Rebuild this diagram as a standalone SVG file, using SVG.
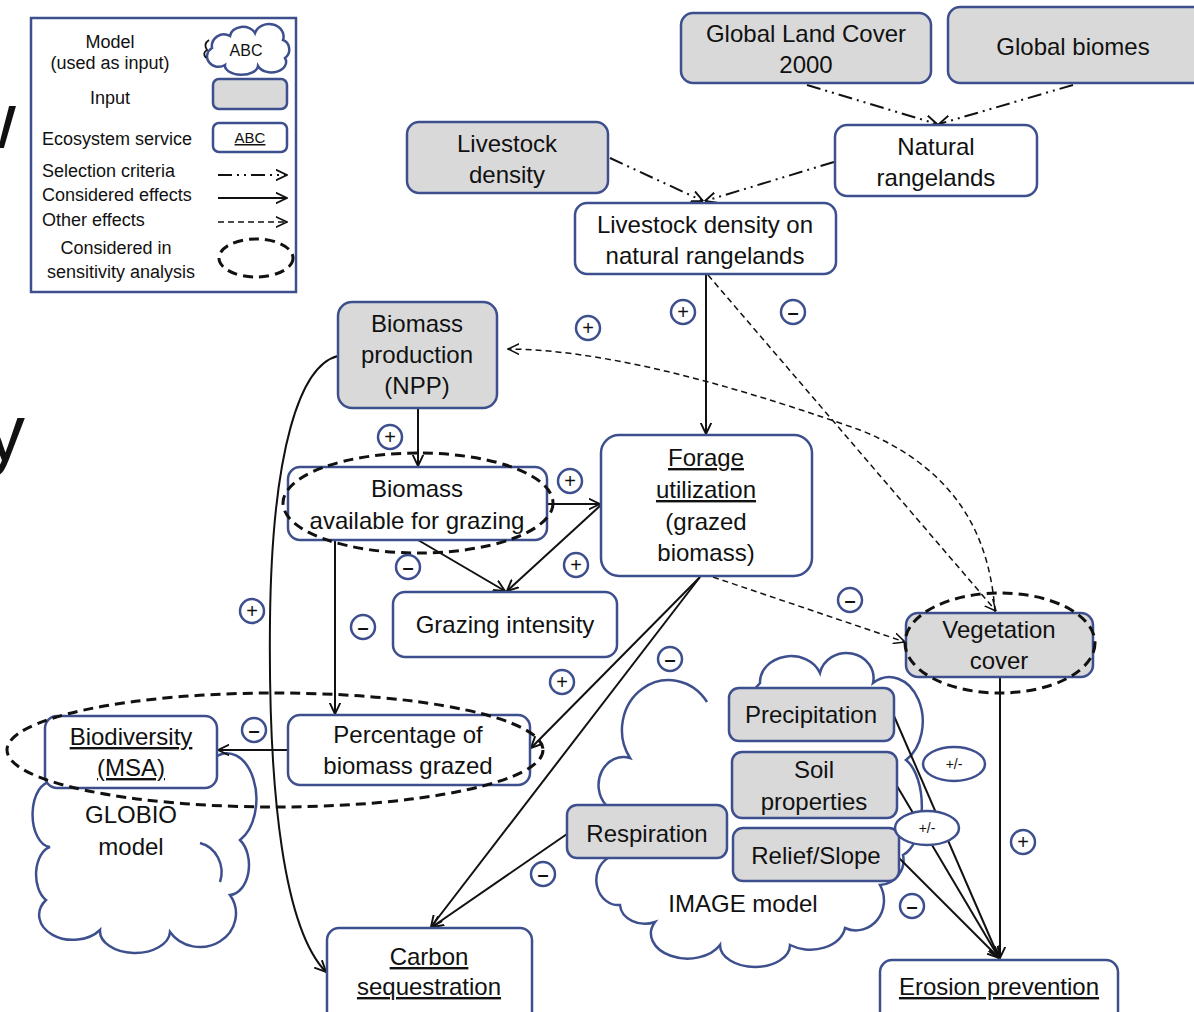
<svg xmlns="http://www.w3.org/2000/svg" width="1194" height="1012" viewBox="0 0 1194 1012">
<defs>
<style>
.n{fill:#fff;stroke:#3e4f8e;stroke-width:2.5}
.g{fill:#d9d9d9;stroke:#3e4f8e;stroke-width:2.5}
.cl{fill:none;stroke:#3e4f8e;stroke-width:2.5}
text{font-family:"Liberation Sans",Arial,sans-serif;fill:#111}
.t{font-size:24px;text-anchor:middle}
.u{text-decoration:underline}
.lg{font-size:18px}
.lc{font-size:18px;text-anchor:middle}
.s{stroke:#111;stroke-width:2;fill:none;marker-end:url(#a)}
.d{stroke:#111;stroke-width:1.5;fill:none;stroke-dasharray:6 4;marker-end:url(#ad)}
.sel{stroke:#111;stroke-width:2;fill:none;stroke-dasharray:14 5 2 5 2 5;marker-end:url(#a)}
.sa{fill:none;stroke:#111;stroke-width:3;stroke-dasharray:10 6}
.b{fill:#fff;stroke:#3e4f8e;stroke-width:2.5}
.bt{font-size:20px;text-anchor:middle}
</style>
<marker id="a" viewBox="0 0 10 10" refX="9.5" refY="5" markerWidth="12" markerHeight="12" markerUnits="userSpaceOnUse" orient="auto"><path d="M0,0.5 L9.5,5 L0,9.5" fill="none" stroke="#111" stroke-width="1.6"/></marker>
<marker id="ad" viewBox="0 0 10 10" refX="9.5" refY="5" markerWidth="12" markerHeight="12" markerUnits="userSpaceOnUse" orient="auto"><path d="M0,0.5 L9.5,5 L0,9.5" fill="none" stroke="#111" stroke-width="1.3"/></marker>
</defs>
<rect width="1194" height="1012" fill="#fff"/>

<!-- fragments at left edge -->
<text x="-42" y="148" style="font-size:80px">w</text>
<text x="-15" y="460" style="font-size:80px">y</text>

<!-- legend -->
<g id="legend">
<rect x="31" y="18" width="265" height="274" fill="#fff" stroke="#3e4f8e" stroke-width="2.5"/>
<text class="lc" x="110" y="48">Model</text>
<text class="lc" x="110" y="69">(used as input)</text>
<path class="cl" d="M212,48 A12,12 0 0,1 230,36 A13,10 0 0,1 255,33 A14,12 0 0,1 283,40 A9,10 0 0,1 285,58 A14,10 0 0,1 258,66 A16,9 0 0,1 225,65 A10,9 0 0,1 212,48 Z" stroke-width="2"/>
<path d="M209,40 Q203,44 207,50 Q202,53 206,58" fill="none" stroke="#111" stroke-width="1.8"/>
<text x="246" y="56" style="font-size:16px;text-anchor:middle">ABC</text>
<text class="lc" x="110" y="104">Input</text>
<rect class="g" x="213" y="79" width="74" height="30" rx="6"/>
<text class="lg" x="42" y="145">Ecosystem service</text>
<rect class="n" x="213" y="123" width="74" height="29" rx="6"/>
<text x="250" y="143" class="u" style="font-size:15px;text-anchor:middle">ABC</text>
<text class="lg" x="42" y="177">Selection criteria</text>
<line class="sel" x1="218" y1="175" x2="287" y2="175"/>
<text class="lg" x="42" y="201">Considered effects</text>
<line class="s" x1="218" y1="198" x2="287" y2="198"/>
<text class="lg" x="42" y="226">Other effects</text>
<line class="d" x1="218" y1="222" x2="287" y2="222"/>
<text class="lc" x="116" y="254">Considered in</text>
<text class="lc" x="121" y="278">sensitivity analysis</text>
<ellipse class="sa" cx="256" cy="258" rx="37" ry="19" stroke-width="2.5"/>
</g>

<!-- model clouds -->
<g id="globio-model">
<path class="cl" d="M52,782 A17,30 0 0,0 50,847 A17,28 0 0,0 46,900 A30,22 0 0,0 100,930 A35,22 0 0,0 170,932 A30,28 0 0,0 230,895 A20,30 0 0,0 240,840 A18,28 0 0,0 214,758"/>
<path class="cl" d="M200,843 A28,30 0 0,1 220,882"/>
<text class="t" x="131" y="823">GLOBIO</text>
<text class="t" x="131" y="855">model</text>
</g>
<g id="image-model">
<path class="cl" d="M707,702 A42,45 0 0,0 630,758 A25,28 0 0,0 606,805 L608,858 A22,25 0 0,0 620,905 A25,20 0 0,0 655,922 A35,24 0 0,0 720,945 A35,22 0 0,0 790,945 A35,25 0 0,0 845,928 A28,30 0 0,0 880,885 A25,25 0 0,0 903,855 A25,50 0 0,0 906,760 A30,40 0 0,0 873,683 A27,25 0 0,0 820,673 A31,26 0 0,0 760,683 L745,700"/>
<text class="t" x="743" y="912">IMAGE model</text>
</g>

<!-- connectors -->
<g id="connectors">
<line class="sel" x1="807" y1="85" x2="937" y2="124"/>
<line class="sel" x1="1073" y1="85" x2="939" y2="124"/>
<line class="sel" x1="610" y1="158" x2="703" y2="201"/>
<line class="sel" x1="834" y1="162" x2="705" y2="201"/>
<line class="s" x1="706" y1="274" x2="706" y2="434"/>
<line class="s" x1="418" y1="408" x2="418" y2="466"/>
<line class="s" x1="548" y1="504" x2="600" y2="504"/>
<line class="s" x1="418" y1="540" x2="505" y2="591"/>
<line class="s" x1="601" y1="505" x2="507" y2="591"/>
<line class="s" x1="335" y1="540" x2="335" y2="714"/>
<line class="s" x1="288" y1="750" x2="218" y2="750"/>
<line class="s" x1="700" y1="577" x2="531" y2="748"/>
<line class="s" x1="700" y1="577" x2="431" y2="927"/>
<line class="s" x1="567" y1="834" x2="432" y2="927"/>
<path class="s" d="M338,356 C300,365 272,450 270,620 C268,800 285,930 326,972"/>
<line class="s" x1="1000" y1="677" x2="1000" y2="958"/>
<line class="s" x1="894" y1="716" x2="999" y2="958"/>
<line class="s" x1="897" y1="786" x2="999" y2="958"/>
<line class="s" x1="898" y1="857" x2="999" y2="958"/>
<line class="d" x1="713" y1="577" x2="905" y2="642"/>
<line class="d" x1="708" y1="275" x2="996" y2="611"/>
<path class="d" d="M995,612 C990,540 960,470 860,430 C760,395 620,350 508,349"/>
</g>

<!-- nodes -->
<g id="global-land-cover"><rect class="g" x="681" y="13" width="250" height="70" rx="12"/><text class="t" x="806" y="42">Global Land Cover</text><text class="t" x="806" y="73">2000</text></g>
<g id="global-biomes"><rect class="g" x="948" y="7" width="262" height="76" rx="12"/><text class="t" x="1073" y="55">Global biomes</text></g>
<g id="livestock-density"><rect class="g" x="407" y="122" width="201" height="71" rx="12"/><text class="t" x="507" y="152">Livestock</text><text class="t" x="507" y="183">density</text></g>
<g id="natural-rangelands"><rect class="n" x="835" y="125" width="202" height="71" rx="12"/><text class="t" x="936" y="155">Natural</text><text class="t" x="936" y="186">rangelands</text></g>
<g id="livestock-density-natural-rangelands"><rect class="n" x="575" y="203" width="261" height="71" rx="12"/><text class="t" x="705" y="233">Livestock density on</text><text class="t" x="705" y="264">natural rangelands</text></g>
<g id="biomass-production"><rect class="g" x="338" y="302" width="159" height="106" rx="14"/><text class="t" x="417" y="332">Biomass</text><text class="t" x="417" y="363">production</text><text class="t" x="417" y="394">(NPP)</text></g>
<g id="biomass-available"><rect class="n" x="288" y="467" width="259" height="73" rx="12"/><text class="t" x="417" y="497">Biomass</text><text class="t" x="417" y="529">available for grazing</text></g>
<g id="forage-utilization"><rect class="n" x="601" y="435" width="211" height="141" rx="18"/><text class="t u" x="706" y="466">Forage</text><text class="t u" x="706" y="498">utilization</text><text class="t" x="706" y="530">(grazed</text><text class="t" x="706" y="561">biomass)</text></g>
<g id="grazing-intensity"><rect class="n" x="393" y="592" width="224" height="65" rx="12"/><text class="t" x="505" y="633">Grazing intensity</text></g>
<g id="percentage-grazed"><rect class="n" x="288" y="715" width="242" height="70" rx="12"/><text class="t" x="408" y="743">Percentage of</text><text class="t" x="408" y="774">biomass grazed</text></g>
<g id="biodiversity"><rect class="n" x="45" y="716" width="172" height="72" rx="12"/><text class="t u" x="131" y="745">Biodiversity</text><text class="t u" x="131" y="776">(MSA)</text></g>
<g id="carbon-sequestration"><rect class="n" x="327" y="928" width="205" height="100" rx="12"/><text class="t u" x="429" y="965">Carbon</text><text class="t u" x="429" y="995">sequestration</text></g>
<g id="precipitation"><rect class="g" x="729" y="688" width="165" height="53" rx="10"/><text class="t" x="811" y="723">Precipitation</text></g>
<g id="soil-properties"><rect class="g" x="732" y="752" width="165" height="66" rx="10"/><text class="t" x="814" y="778">Soil</text><text class="t" x="814" y="810">properties</text></g>
<g id="relief-slope"><rect class="g" x="733" y="828" width="166" height="53" rx="10"/><text class="t" x="816" y="864">Relief/Slope</text></g>
<g id="respiration"><rect class="g" x="567" y="805" width="160" height="53" rx="10"/><text class="t" x="647" y="842">Respiration</text></g>
<g id="vegetation-cover"><rect class="g" x="906" y="613" width="187" height="64" rx="12"/><text class="t" x="999" y="638">Vegetation</text><text class="t" x="999" y="669">cover</text></g>
<g id="erosion-prevention"><rect class="n" x="880" y="960" width="238" height="70" rx="12"/><text class="t u" x="999" y="995">Erosion prevention</text></g>

<!-- sensitivity analysis -->
<g id="sensitivity">
<ellipse class="sa" cx="418" cy="503" rx="135" ry="50"/>
<ellipse class="sa" cx="275" cy="750" rx="268" ry="57"/>
<ellipse class="sa" cx="1000" cy="643" rx="95" ry="50"/>
</g>

<!-- signs -->
<g id="signs">
<circle class="b" cx="588" cy="328" r="12"/><text class="bt" x="588" y="335">+</text>
<circle class="b" cx="683" cy="312" r="12"/><text class="bt" x="683" y="319">+</text>
<circle class="b" cx="793" cy="312" r="12"/><text class="bt" x="793" y="319" font-weight="bold">–</text>
<circle class="b" cx="390" cy="437" r="12"/><text class="bt" x="390" y="444">+</text>
<circle class="b" cx="570" cy="481" r="12"/><text class="bt" x="570" y="488">+</text>
<circle class="b" cx="408" cy="567" r="12"/><text class="bt" x="408" y="574" font-weight="bold">–</text>
<circle class="b" cx="576" cy="565" r="12"/><text class="bt" x="576" y="572">+</text>
<circle class="b" cx="252" cy="611" r="12"/><text class="bt" x="252" y="618">+</text>
<circle class="b" cx="363" cy="627" r="12"/><text class="bt" x="363" y="634" font-weight="bold">–</text>
<circle class="b" cx="850" cy="600" r="12"/><text class="bt" x="850" y="607" font-weight="bold">–</text>
<circle class="b" cx="670" cy="659" r="12"/><text class="bt" x="670" y="666" font-weight="bold">–</text>
<circle class="b" cx="562" cy="682" r="12"/><text class="bt" x="562" y="689">+</text>
<circle class="b" cx="254" cy="730" r="12"/><text class="bt" x="254" y="737" font-weight="bold">–</text>
<circle class="b" cx="543" cy="874" r="12"/><text class="bt" x="543" y="881" font-weight="bold">–</text>
<circle class="b" cx="1023" cy="842" r="12"/><text class="bt" x="1023" y="849">+</text>
<circle class="b" cx="912" cy="906" r="12"/><text class="bt" x="912" y="913" font-weight="bold">–</text>
<ellipse class="b" cx="954" cy="764" rx="31" ry="17"/><text x="954" y="769" style="font-size:14px;text-anchor:middle">+/-</text>
<ellipse class="b" cx="927" cy="828" rx="32" ry="17"/><text x="927" y="833" style="font-size:14px;text-anchor:middle">+/-</text>
</g>
</svg>
